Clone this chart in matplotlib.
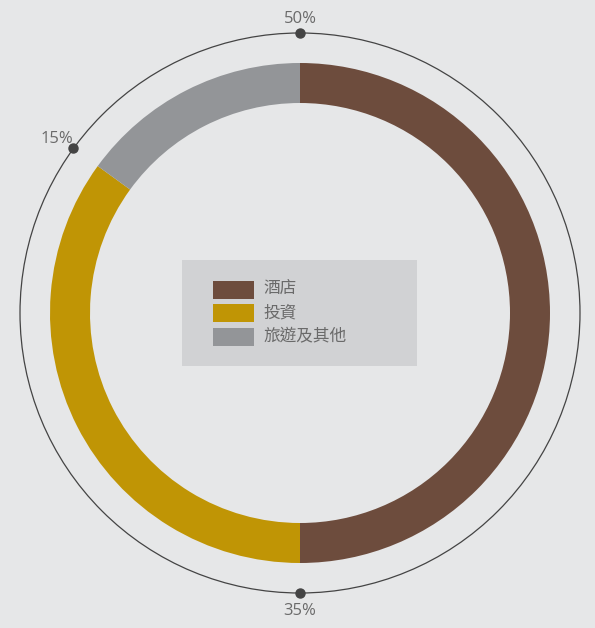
import numpy as np
import matplotlib.pyplot as plt
from matplotlib.patches import Rectangle, Circle

plt.rcParams['font.family'] = ['Noto Sans CJK TC', 'DejaVu Sans']

labels = ['酒店', '投資', '旅遊及其他']
values = [50, 35, 15]
colors = ['#6d4c3d', '#c09505', '#939598']

bg = '#e6e7e8'
W, H = 595, 628
cx, cy = 300, H - 313

fig = plt.figure(figsize=(W / 100, H / 100), dpi=100, facecolor=bg)
ax = fig.add_axes([0, 0, 1, 1])

# donut
ax.pie(values, colors=colors, radius=250, center=(cx, cy), startangle=90,
       counterclock=False, wedgeprops=dict(width=40, linewidth=0))
ax.set_xlim(0, W)
ax.set_ylim(0, H)
ax.set_aspect('equal')
ax.axis('off')

# thin outer ring with dots at segment starts
ax.add_patch(Circle((cx, cy), 280, fill=False, lw=0.9, ec='#444444'))
start = np.concatenate([[0], np.cumsum(values)[:-1]])
for s, v in zip(start, values):
    a = np.deg2rad(90 - s / sum(values) * 360)
    ax.plot(cx + 280 * np.cos(a), cy + 280 * np.sin(a), 'o', ms=6.5, color='#444444')
    r = 296 if s in (0, 50) else 300
    ax.text(cx + r * np.cos(a), cy + r * np.sin(a) - 2, f'{v}%', ha='center', va='center',
            fontsize=12, color='#6a6a6a', family=['Open Sans', 'DejaVu Sans'])

# legend box
ax.add_patch(Rectangle((182, H - 366), 235, 106, fc='#d1d2d4', ec='none'))
for i, (lab, c) in enumerate(zip(labels, colors)):
    yc = H - (289.5 + i * 23.5)
    ax.add_patch(Rectangle((213, yc - 9), 41, 18, fc=c, ec='none'))
    ax.text(263, yc, lab, ha='left', va='center', fontsize=12, color='#6a6a6a')

fig.savefig('out.png', dpi=100, facecolor=bg)
